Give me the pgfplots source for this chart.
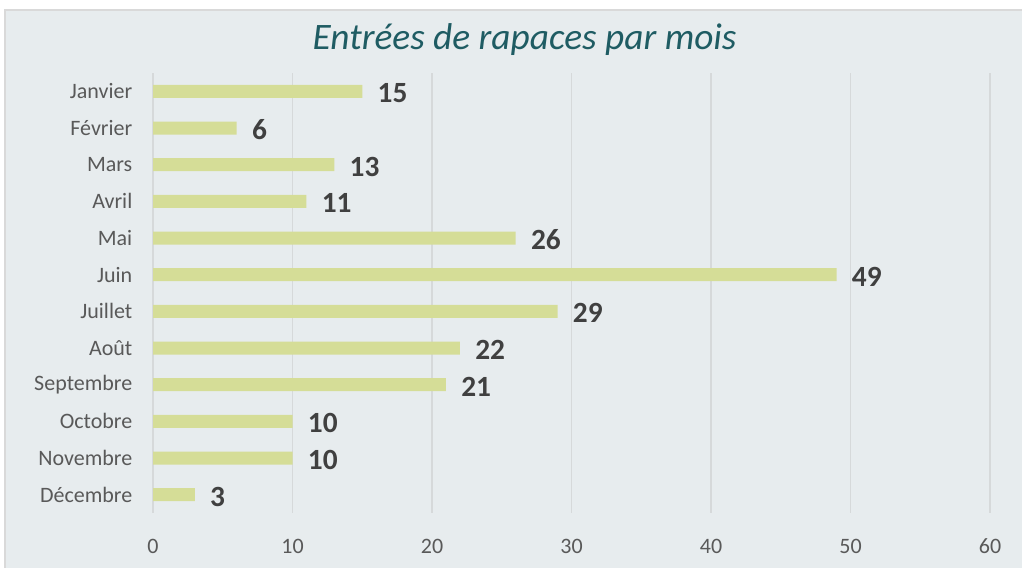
\documentclass[border=0pt]{standalone}
\usepackage{pgfplots}
\pgfplotsset{compat=1.18}
\usepackage{fontspec}
\setmainfont{Carlito}
\definecolor{bg}{HTML}{E7ECEE}
\definecolor{bordercol}{HTML}{D9D9D9}
\definecolor{barcol}{HTML}{D5DD97}
\definecolor{titlecol}{HTML}{1F5C63}
\definecolor{tickcol}{HTML}{595959}
\definecolor{labcol}{HTML}{404040}
\definecolor{gridcol}{HTML}{D6D9DA}
\begin{document}
\begin{tikzpicture}[x=1pt,y=1pt]
\path[use as bounding box] (0,0) rectangle (766.5,426);
\fill[white] (0,0) rectangle (766.5,426);
\fill[bg] (3.75,0) rectangle (766.5,418.5);
\draw[bordercol, line width=0.8pt] (3.75,0) -- (3.75,418.5) -- (766.5,418.5);
\node[font=\itshape\fontsize{28}{32}\selectfont, text=titlecol] at (393.4,396) {Entrées de rapaces par mois};
\begin{axis}[
  at={(114.75pt,41.25pt)}, anchor=south west,
  scale only axis, width=627.75pt, height=330pt,
  xbar, bar width=9.75pt,
  xmin=0, xmax=60, xtick={0,10,...,60},
  ymin=-0.5, ymax=11.5, y dir=reverse,
  ytick={0,...,11},
  yticklabels={Janvier,Février,Mars,Avril,Mai,Juin,Juillet,Août,Septembre,Octobre,Novembre,Décembre},
  axis line style={draw=none},
  major tick length=0pt,
  xmajorgrids, grid style={gridcol, line width=0.8pt},
  ticklabel style={font=\fontsize{16.5}{18}\selectfont, text=tickcol},
  /pgf/number format/assume math mode=true,
  x tick label style={yshift=-16pt},
  y tick label style={xshift=-12pt},
  nodes near coords,
  nodes near coords style={font=\bfseries\fontsize{22}{24}\selectfont, text=labcol, anchor=west, xshift=8pt, yshift=-1.5pt},
]
\addplot[fill=barcol, draw=none] coordinates {
(15,0) (6,1) (13,2) (11,3) (26,4) (49,5) (29,6) (22,7) (21,8) (10,9) (10,10) (3,11)};
\end{axis}
\end{tikzpicture}
\end{document}
